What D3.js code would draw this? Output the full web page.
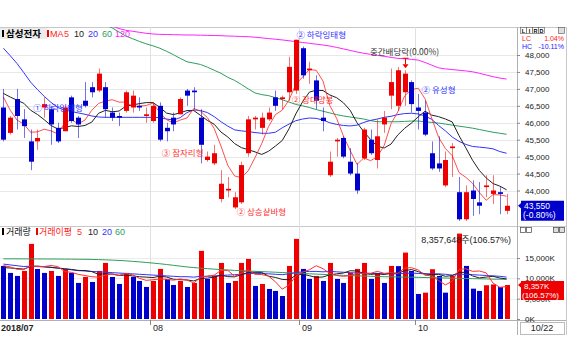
<!DOCTYPE html>
<html><head><meta charset="utf-8">
<script src="https://cdnjs.cloudflare.com/ajax/libs/d3/7.8.5/d3.min.js"></script>
<style>
body{margin:0;background:#fff}
svg{display:block}
text{font-family:"Liberation Sans",Arial,sans-serif}
.kr{font-family:"Noto Sans CJK KR","Noto Sans",sans-serif}
</style>
</head><body>
<svg id="c" width="567" height="361"></svg>
<script>
// ---------------- DATA ----------------
const dates = ["07/02","07/03","07/04","07/05","07/06","07/09","07/10","07/11","07/12","07/13","07/16","07/17","07/18","07/19","07/20","07/23","07/24","07/25","07/26","07/27","07/30","07/31",
"08/01","08/02","08/03","08/06","08/07","08/08","08/09","08/10","08/13","08/14","08/16","08/17","08/20","08/21","08/22","08/23","08/24","08/27","08/28","08/29","08/30","08/31",
"09/03","09/04","09/05","09/06","09/07","09/10","09/11","09/12","09/13","09/14","09/17","09/18","09/19","09/20","09/21","09/27","09/28",
"10/01","10/02","10/04","10/05","10/08","10/10","10/11","10/12","10/15","10/16","10/17","10/18","10/19","10/22"];
const opens  = [46450,45700,46700,46100,45450,45450,46450,46400,45850,45750,46750,46150,46650,47050,46950,47050,46300,46200,46350,46450,46500,46200,46050,46500,45850,46150,46250,46950,46950,46150,44900,44800,43750,44000,43500,43650,45100,46100,45850,46100,46750,46700,46900,46950,48200,47550,47250,46150,44450,45450,45550,44850,44500,44950,45500,44900,45950,46800,46500,46900,47200,46450,46300,45100,44800,44150,45250,43950,43150,44000,43650,44100,43900,43950,43400];
const highs  = [47000,46200,47000,46400,45800,45800,46750,46500,46000,46500,46800,46200,47200,47200,47600,47200,46450,46300,46950,46950,46750,46450,46600,46600,46000,46300,46750,47000,47050,46400,45150,45350,44600,44400,43950,44850,46200,46200,46300,46450,46950,46800,47950,48450,48250,47800,47400,46450,45150,45550,45600,45250,44800,45850,45800,46100,46350,47600,47650,47550,47250,46850,46650,45450,45600,45150,45400,44400,44150,44300,44250,44450,44450,44100,43900];
const lows   = [45450,45650,45800,45550,44600,45200,46150,45350,45400,45750,46000,45550,46450,46750,46900,46150,46050,45900,46300,46300,46350,46000,46000,45450,45450,45750,46250,46500,46400,44800,44850,44750,43650,43800,43450,43600,45000,45800,45650,46050,46350,46400,46650,46850,47300,47150,46400,45750,44400,45000,44950,44450,43900,44900,45050,44650,45700,46400,46350,46500,46300,45800,45600,44600,44550,44100,44400,43100,43100,43250,43300,43800,43600,43300,43300];
const closes = [45500,46150,46200,45900,44850,45550,46550,45950,45450,46450,46050,45950,46500,46900,47450,46400,46150,46150,46900,46800,46450,46250,46500,45500,45750,45950,46700,46800,46900,45350,45000,45100,44200,44050,43800,44750,46100,46150,46150,46300,46500,46750,47650,48450,47400,47600,46650,46050,44850,45500,45000,44500,44000,45800,45100,45600,46150,47200,47550,47450,46550,46350,45650,44650,44650,44900,45300,43150,43950,43750,43550,44150,44000,43900,43550];
// closes of the 9 sessions before 07/02 (for MA5 / MA10)
const priorCloses = [47200,47150,46800,46900,46800,48100,47650,46500,46050];
const ma20  = [48200,47980,47750,47480,47200,46980,46780,46600,46450,46380,46330,46290,46250,46200,46170,46160,46160,46160,46160,46160,46160,46160,46160,46150,46110,46080,46150,46300,46380,46360,46300,46180,46030,45900,45790,45760,45740,45710,45690,45690,45720,45850,45960,46060,46110,46140,46130,46080,46000,45950,45920,45905,45930,46010,46070,46110,46160,46190,46240,46270,46280,46260,46200,46100,45920,45760,45580,45450,45360,45300,45280,45260,45230,45150,45100];
const ma60  = [50100,50020,49940,49860,49780,49700,49620,49540,49460,49380,49300,49220,49140,49060,48980,48890,48800,48680,48560,48480,48400,48330,48270,48200,48110,48010,47900,47800,47760,47720,47640,47550,47460,47340,47250,47130,47000,46880,46830,46800,46740,46680,46610,46540,46500,46450,46390,46340,46290,46240,46200,46170,46140,46110,46060,46030,46030,46030,46030,46040,46050,46050,46030,46010,45990,45960,45930,45900,45870,45840,45800,45760,45720,45690,45660];
const ma120 = [49330,49300,49270,49240,49210,49180,49150,49120,49090,49060,49030,49000,48970,48940,48910,48880,48850,48780,48730,48700,48670,48640,48620,48610,48605,48600,48595,48590,48590,48585,48580,48575,48570,48560,48555,48545,48540,48525,48505,48485,48465,48445,48420,48395,48370,48345,48320,48295,48265,48225,48180,48135,48090,48050,48020,47990,47960,47930,47900,47890,47870,47850,47780,47700,47620,47590,47570,47550,47530,47505,47460,47410,47360,47320,47290];
// volume in thousand shares
const volumes = [13050,11330,10590,11820,18470,12300,11330,11820,10590,12310,11330,8870,10350,9110,11820,13790,10340,8620,11330,10340,9360,7880,9360,12310,9850,8370,9360,7880,8870,16750,9850,10590,13790,8870,9360,13790,14780,8130,8620,7390,6900,5660,13050,19700,12310,9850,10590,9360,13790,9850,8870,11330,12310,13790,9850,11330,8870,13050,13000,16330,11820,6160,6480,12240,10590,6480,10590,21000,13050,7460,6900,8300,8500,7842,8358];
const priorVolumes = [12500,11800,13200,12000,11500,12800,13500,12200,14000];
const vma20 = [13500,13300,13100,12900,13000,12900,12800,12700,12500,12300,12100,11900,11800,11700,11600,11500,11400,11300,11200,11100,11000,10900,10800,10700,10600,10500,10400,10400,10300,10500,10500,10600,10700,10800,10900,11000,11200,11200,11200,11100,11000,10900,11100,11400,11600,11700,11700,11600,11700,11600,11500,11400,11300,11300,11200,11200,11100,11100,11100,11200,11300,11200,11100,11100,11100,11000,10800,11000,11000,10900,10800,10700,10600,10500,10300];
const vma60 = [14800,14800,14790,14780,14780,14770,14760,14750,14740,14730,14720,14700,14680,14650,14600,14550,14480,14400,14300,14180,14050,13900,13750,13580,13400,13200,13000,12800,12650,12500,12380,12260,12150,12050,11950,11870,11800,11720,11650,11580,11500,11420,11350,11280,11200,11120,11040,10960,10880,10800,10740,10680,10620,10560,10500,10450,10400,10370,10340,10310,10280,10240,10200,10160,10120,10080,10040,10000,9960,9920,9880,9840,9800,9780,9760];
const priceTicks = [44000,44500,45000,45500,46000,46500,47000,47500,48000];
const volTicks = [0,5000,10000,15000];
const monthLabels = [{i:0,text:"2018/07"},{i:22,text:"08"},{i:44,text:"09"},{i:61,text:"10"}];
const lastDateLabel = "10/22";
const lastClose = 43550, lastChangePct = -0.80, lowChangePct = 1.04, highChangePct = -10.11;
const lastVolumeShares = 8357648, lastVolumeRatio = 106.57;
const annotations = [
  {i:4.4,  p:46430, text:"① 하락잉태형", kind:"bear"},
  {i:23.3, p:45100, text:"③ 잠자리형", kind:"bull"},
  {i:34.3, p:43370, text:"② 상승샅바형", kind:"bull"},
  {i:42.4, p:46670, text:"② 장대양봉", kind:"bull"},
  {i:43.1, p:48590, text:"② 하락잉태형", kind:"bear"},
  {i:61.5, p:46970, text:"② 유성형", kind:"bear"}
];
const dividend = {i:59, p:48100, text:"중간배당락(0.00%)"};

// ---------------- CHART ----------------
const svg = d3.select("#c");
const W=567, PR=517, PT=27, PB=226, VB=320;
const UP="#ee0000", DN="#0000cc";
const maColors = {5:"#ff3030",10:"#222222",20:"#3333ff",60:"#2e9e5e",120:"#ff22ff"};

const x = d3.scaleBand().domain(dates).range([0,510]).paddingInner(0.28).paddingOuter(0.14);
const xi = i => x(dates[0]) + x.bandwidth()/2 + i*x.step();
const yP = d3.scaleLinear().domain([44000,48000]).range([190.5,55]);
const yV = d3.scaleLinear().domain([0,15000]).range([319,258]);

function movingAvg(prior, vals, n){
  const all = prior.concat(vals), off = prior.length;
  return vals.map((v,i)=> d3.mean(all.slice(off+i-n+1, off+i+1)));
}
const ma5 = movingAvg(priorCloses, closes, 5);
const ma10 = movingAvg(priorCloses, closes, 10);
const vma5 = movingAvg(priorVolumes, volumes, 5);
const vma10 = movingAvg(priorVolumes, volumes, 10);

const defs = svg.append("defs");
defs.append("clipPath").attr("id","cp").append("rect").attr("x",0).attr("y",PT).attr("width",PR).attr("height",PB-PT);
defs.append("clipPath").attr("id","cv").append("rect").attr("x",0).attr("y",PB).attr("width",PR).attr("height",VB-PB);

// frames
svg.append("line").attr("x1",0).attr("x2",W).attr("y1",PT+0.5).attr("y2",PT+0.5).attr("stroke","#c8c8c8");
svg.append("line").attr("x1",0).attr("x2",W).attr("y1",PB+0.5).attr("y2",PB+0.5).attr("stroke","#c8c8c8");
svg.append("line").attr("x1",0).attr("x2",W).attr("y1",VB+0.5).attr("y2",VB+0.5).attr("stroke","#b0b0b0");
svg.append("line").attr("x1",PR+0.5).attr("x2",PR+0.5).attr("y1",PT).attr("y2",335).attr("stroke","#b0b0b0");
svg.append("line").attr("x1",W-0.5).attr("x2",W-0.5).attr("y1",PT).attr("y2",335).attr("stroke","#c8c8c8");

// grid
svg.append("g").selectAll("line").data(priceTicks).join("line")
  .attr("x1",0).attr("x2",PR).attr("y1",d=>Math.round(yP(d))+0.5).attr("y2",d=>Math.round(yP(d))+0.5)
  .attr("stroke","#e8e8e8");
svg.append("g").selectAll("line").data(volTicks.slice(1)).join("line")
  .attr("x1",0).attr("x2",PR).attr("y1",d=>Math.round(yV(d))+0.5).attr("y2",d=>Math.round(yV(d))+0.5)
  .attr("stroke","#ececec");
svg.append("g").selectAll("line").data(monthLabels.slice(1)).join("line")
  .attr("x1",d=>Math.round(xi(d.i)-x.step()/2)+0.5).attr("x2",d=>Math.round(xi(d.i)-x.step()/2)+0.5)
  .attr("y1",PT).attr("y2",VB+5).attr("stroke","#e0e0e0");

// price panel
const gp = svg.append("g").attr("clip-path","url(#cp)");
const line = d3.line().x((d,i)=>xi(i)).y(d=>yP(d));
[[ma120,120],[ma60,60],[ma20,20],[ma10,10],[ma5,5]].forEach(([arr,n])=>{
  gp.append("path").datum(arr).attr("d",line).attr("fill","none").attr("stroke",maColors[n]).attr("stroke-width",1).attr("opacity",n==5?0.85:1);
});
const cg = gp.append("g").selectAll("g").data(dates).join("g");
cg.append("line")
  .attr("x1",d=>Math.round(x(d)+x.bandwidth()/2)+0.5).attr("x2",d=>Math.round(x(d)+x.bandwidth()/2)+0.5)
  .attr("y1",(d,i)=>yP(highs[i])).attr("y2",(d,i)=>yP(lows[i]))
  .attr("stroke",(d,i)=>closes[i]>=opens[i]?UP:DN).attr("stroke-opacity",0.55);
cg.append("rect")
  .attr("x",d=>Math.round(x(d)+x.bandwidth()/2)-2).attr("width",5)
  .attr("y",(d,i)=>yP(Math.max(opens[i],closes[i])))
  .attr("height",(d,i)=>Math.max(1.5,Math.abs(yP(opens[i])-yP(closes[i]))))
  .attr("fill",(d,i)=>closes[i]>=opens[i]?UP:DN);

// annotations
const annColor = {bear:"#3030ff", bull:"#ff3030"};
svg.append("g").selectAll("text").data(annotations).join("text").attr("class","kr")
  .attr("x",d=>xi(d.i)).attr("y",d=>yP(d.p)+3).attr("font-size",8.5)
  .attr("fill",d=>annColor[d.kind]).text(d=>d.text);
svg.append("text").attr("class","kr").attr("x",xi(dividend.i)).attr("y",yP(dividend.p)+3)
  .attr("text-anchor","middle").attr("font-size",8.5).attr("fill","#333").text(dividend.text);
const ax = Math.round(xi(dividend.i))+0.5, ay = yP(highs[dividend.i]);
svg.append("line").attr("x1",ax-3).attr("x2",ax+3).attr("y1",ay-12).attr("y2",ay-12).attr("stroke","#ee0000");
svg.append("line").attr("x1",ax).attr("x2",ax).attr("y1",ay-12).attr("y2",ay-6).attr("stroke","#ee0000");
svg.append("path").attr("d",`M${ax-3},${ay-6}L${ax+3},${ay-6}L${ax},${ay-2}Z`).attr("fill","#ee0000");

// legends
svg.append("rect").attr("x",0).attr("y",28).attr("width",47).attr("height",11).attr("fill","#ececec");
svg.append("rect").attr("x",2).attr("y",30).attr("width",2).attr("height",7).attr("fill","#000");
svg.append("text").attr("class","kr").attr("x",6).attr("y",37).attr("font-size",9.5).attr("font-weight","bold").text("삼성전자");
svg.append("rect").attr("x",47).attr("y",30).attr("width",2).attr("height",7).attr("fill","#ee0000");
svg.append("text").attr("x",50).attr("y",37).attr("font-size",9).attr("fill","#ff2020").text("MA");
const maLeg = [[5,64],[10,74],[20,88],[60,102],[120,115]];
svg.append("g").selectAll("text").data(maLeg).join("text").attr("x",d=>d[1]).attr("y",37).attr("font-size",9)
  .attr("fill",d=>maColors[d[0]]).text(d=>d[0]);

svg.append("rect").attr("x",2).attr("y",228).attr("width",2).attr("height",7).attr("fill","#000");
svg.append("text").attr("class","kr").attr("x",6).attr("y",235).attr("font-size",9).attr("fill","#111").text("거래량");
svg.append("rect").attr("x",36).attr("y",228).attr("width",2).attr("height",7).attr("fill","#ee0000");
svg.append("text").attr("class","kr").attr("x",39).attr("y",235).attr("font-size",9).attr("fill","#ff2020").text("거래이평");
const vLeg = [[5,77],[10,88],[20,102],[60,115]];
svg.append("g").selectAll("text").data(vLeg).join("text").attr("x",d=>d[1]).attr("y",235).attr("font-size",9)
  .attr("fill",d=>maColors[d[0]]).text(d=>d[0]);

// volume panel
const gv = svg.append("g").attr("clip-path","url(#cv)");
gv.append("g").selectAll("rect").data(dates).join("rect")
  .attr("x",d=>Math.round(x(d)+x.bandwidth()/2)-2).attr("width",5)
  .attr("y",(d,i)=>yV(volumes[i])).attr("height",(d,i)=>yV(0)-yV(volumes[i]))
  .attr("fill",(d,i)=>{const prev = i>0?volumes[i-1]:priorVolumes[priorVolumes.length-1]; return volumes[i]>=prev?UP:DN;});
const vline = d3.line().x((d,i)=>xi(i)).y(d=>yV(d));
[[vma60,60],[vma20,20],[vma10,10],[vma5,5]].forEach(([arr,n])=>{
  gv.append("path").datum(arr).attr("d",vline).attr("fill","none").attr("stroke",maColors[n]).attr("stroke-width",1);
});
svg.append("text").attr("x",511).attr("y",243).attr("text-anchor","end").attr("font-size",9).attr("fill","#222")
  .text(d3.format(",")(lastVolumeShares)).append("tspan").attr("class","kr").text("주")
  .append("tspan").attr("font-family","Liberation Sans").text(`(${lastVolumeRatio.toFixed(2)}%)`);

// right axes
const pa = svg.append("g").attr("transform",`translate(${PR},0)`)
  .call(d3.axisRight(yP).tickValues(priceTicks).tickFormat(d3.format(",")).tickSize(3).tickPadding(5));
const va = svg.append("g").attr("transform",`translate(${PR},0)`)
  .call(d3.axisRight(yV).tickValues(volTicks).tickFormat(d=>d3.format(",")(d)+"K").tickSize(3).tickPadding(5));
[pa,va].forEach(g=>{g.select(".domain").remove(); g.selectAll("line").attr("stroke","#888");
  g.selectAll("text").attr("font-size",8).attr("fill","#222").attr("font-family","Liberation Sans");});

// LIRD box
const lird = ["L","I","R","D"];
const lg = svg.append("g").selectAll("g").data(lird).join("g");
lg.append("rect").attr("x",(d,i)=>520.5+i*6).attr("y",27.5).attr("width",6).attr("height",6).attr("fill","#fff").attr("stroke","#555").attr("stroke-width",0.6);
lg.append("text").attr("x",(d,i)=>523.5+i*6).attr("y",32.5).attr("text-anchor","middle").attr("font-size",5.5).attr("font-weight","bold").text(d=>d);
svg.append("rect").attr("x",558.5).attr("y",27.5).attr("width",6).attr("height",6).attr("fill","#ddd").attr("stroke","#555").attr("stroke-width",0.6);
svg.append("text").attr("x",522).attr("y",41).attr("font-size",7).attr("fill","#ff2020").text("LC");
svg.append("text").attr("x",564).attr("y",41).attr("text-anchor","end").attr("font-size",7).attr("fill","#ff2020").text(lowChangePct.toFixed(2)+"%");
svg.append("text").attr("x",522).attr("y",48.6).attr("font-size",7).attr("fill","#2020ff").text("HC");
svg.append("text").attr("x",564).attr("y",48.6).attr("text-anchor","end").attr("font-size",7).attr("fill","#2020ff").text(highChangePct.toFixed(2)+"%");

// toolbar icons
[[520,227],[526,227]].forEach(p=>svg.append("rect").attr("x",p[0]+0.5).attr("y",p[1]+0.5).attr("width",5).attr("height",5).attr("fill","#fff").attr("stroke","#444").attr("stroke-width",0.7));
[[553,227],[559,227]].forEach(p=>svg.append("rect").attr("x",p[0]+0.5).attr("y",p[1]+0.5).attr("width",5).attr("height",5).attr("fill","#ddd").attr("stroke","#444").attr("stroke-width",0.7));

// current price box
const cy = yP(lastClose);
svg.append("path").attr("d",`M${PR+1},${cy}L${PR+5},${cy-3.5}L${PR+5},${cy+3.5}Z`).attr("fill","#0000cc");
svg.append("rect").attr("x",521).attr("y",cy-5).attr("width",43).attr("height",20).attr("fill","#0000cc");
svg.append("text").attr("x",524).attr("y",cy+3).attr("font-size",8.5).attr("fill","#fff").text(d3.format(",")(lastClose));
svg.append("text").attr("x",523).attr("y",cy+12.5).attr("font-size",8.5).attr("fill","#fff").text(`(${lastChangePct.toFixed(2)}%)`);
// current volume box
const vy = yV(lastVolumeShares/1000);
svg.append("path").attr("d",`M${PR+1},${vy}L${PR+5},${vy-3.5}L${PR+5},${vy+3.5}Z`).attr("fill","#ee0000");
svg.append("rect").attr("x",521).attr("y",vy-4).attr("width",43).attr("height",19).attr("fill","#ee0000");
svg.append("text").attr("x",524).attr("y",vy+4).attr("font-size",8).attr("fill","#fff").text(d3.format(",")(Math.floor(lastVolumeShares/1000))+"K");
svg.append("text").attr("x",522).attr("y",vy+12.5).attr("font-size",8).attr("fill","#fff").text(`(${lastVolumeRatio.toFixed(2)}%)`);

// x axis labels
svg.append("g").selectAll("line").data(monthLabels.slice(1)).join("line")
  .attr("x1",d=>Math.round(xi(d.i)-x.step()/2)+0.5).attr("x2",d=>Math.round(xi(d.i)-x.step()/2)+0.5)
  .attr("y1",VB).attr("y2",VB+5).attr("stroke","#888");
svg.append("g").selectAll("text").data(monthLabels).join("text")
  .attr("x",d=>d.i===0?1:Math.round(xi(d.i)-x.step()/2)+3).attr("y",331).attr("font-size",9)
  .attr("font-weight",d=>d.i===0?"bold":"normal").attr("fill","#222").text(d=>d.text);
svg.append("rect").attr("x",520.5).attr("y",322.5).attr("width",44).attr("height",12).attr("fill","#fff").attr("stroke","#bbb");
svg.append("text").attr("x",542).attr("y",331).attr("text-anchor","middle").attr("font-size",9).attr("fill","#222").text(lastDateLabel);
</script>
</body></html>
